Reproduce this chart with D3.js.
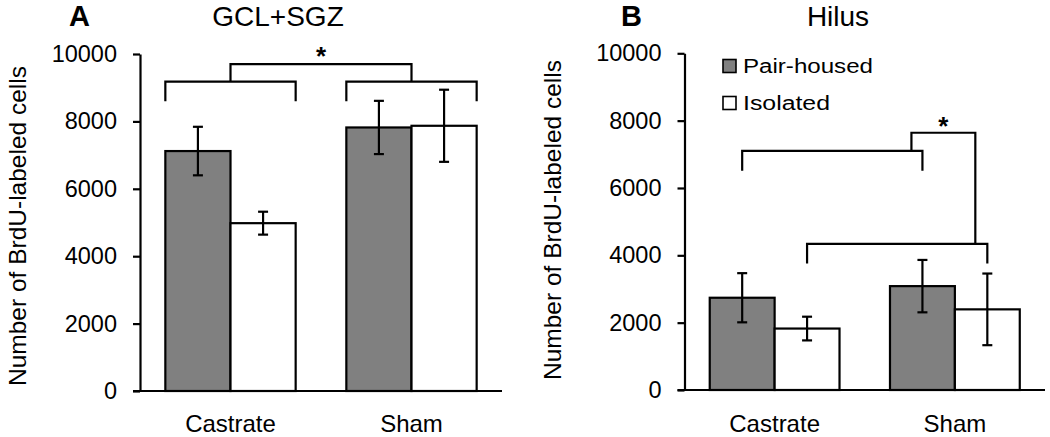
<!DOCTYPE html>
<html>
<head>
<meta charset="utf-8">
<script src="https://cdn.jsdelivr.net/npm/d3@7"></script>
<style>
  html, body { margin: 0; padding: 0; background: #fff; }
  svg { display: block; font-family: "Liberation Sans", Arial, sans-serif; }
</style>
</head>
<body>
<svg id="chart" width="1050" height="437"></svg>
<script>
// ---------- data ----------
const categories = ["Castrate", "Sham"];
const series = ["Pair-housed", "Isolated"];
const yTicks = [0, 2000, 4000, 6000, 8000, 10000];

// Panel A: GCL+SGZ
const gclPair = [7120, 7820];
const gclPairErr = [720, 790];
const gclIso = [4980, 7870];
const gclIsoErr = [340, 1070];

// Panel B: Hilus
const hilPair = [2740, 3085];
const hilPairErr = [730, 778];
const hilIso = [1825, 2395];
const hilIsoErr = [352, 1064];

// significance brackets (y in data units)
const bracketsA = [
  { a: ["Castrate", "start"], b: ["Castrate", "end"], y: 9180, drop: 8600 },
  { a: ["Sham", "start"], b: ["Sham", "end"], y: 9180, drop: 8600 },
  { a: ["Castrate", "center"], b: ["Sham", "center"], y: 9700, drop: 9180, star: true }
];
const bracketsB = [
  { a: ["Castrate", "Pair-housed"], b: ["Sham", "Pair-housed"], y: 7100, drop: 6510 },
  { a: ["Castrate", "Isolated"], b: ["Sham", "Isolated"], y: 4340, drop: 3760 }
];
const connectorB = { fromY: 7100, topY: 7640, toY: 4340 };

// ---------- drawing ----------
const svg = d3.select("#chart");
const fills = { "Pair-housed": "#808080", "Isolated": "#ffffff" };
const SW = 2.2;

function drawPanel(cfg) {
  const g = svg.append("g");
  const x = d3.scaleBand().domain(categories).range([cfg.x0, cfg.x1]);
  const y = d3.scaleLinear().domain([0, 10000]).range([cfg.yBottom, cfg.yTop]);
  const bw = x.bandwidth();
  const groupW = bw * 0.72;
  const xs = d3.scaleBand().domain(series).range([(bw - groupW) / 2, (bw + groupW) / 2]);

  const rows = [];
  categories.forEach((c, i) => {
    rows.push({ cat: c, ser: "Pair-housed", v: cfg.pair[i], e: cfg.pairErr[i] });
    rows.push({ cat: c, ser: "Isolated", v: cfg.iso[i], e: cfg.isoErr[i] });
  });

  // bars
  g.selectAll("rect.bar").data(rows).enter().append("rect")
    .attr("x", d => x(d.cat) + xs(d.ser))
    .attr("y", d => y(d.v))
    .attr("width", xs.bandwidth())
    .attr("height", d => y(0) - y(d.v))
    .attr("fill", d => fills[d.ser])
    .attr("stroke", "#000").attr("stroke-width", SW);

  // error bars
  const cx = d => x(d.cat) + xs(d.ser) + xs.bandwidth() / 2;
  const eb = g.selectAll("g.err").data(rows).enter().append("g")
    .attr("stroke", "#000").attr("stroke-width", SW);
  eb.append("line").attr("x1", cx).attr("x2", cx)
    .attr("y1", d => y(d.v + d.e)).attr("y2", d => y(d.v - d.e));
  eb.append("line").attr("x1", d => cx(d) - 5).attr("x2", d => cx(d) + 5)
    .attr("y1", d => y(d.v + d.e)).attr("y2", d => y(d.v + d.e));
  eb.append("line").attr("x1", d => cx(d) - 5).attr("x2", d => cx(d) + 5)
    .attr("y1", d => y(d.v - d.e)).attr("y2", d => y(d.v - d.e));

  // y axis
  const ya = g.append("g").attr("transform", `translate(${cfg.x0},0)`)
    .call(d3.axisLeft(y).tickValues(yTicks).tickFormat(d3.format("d"))
      .tickSize(7).tickSizeOuter(0).tickPadding(16));
  ya.selectAll("path, line").attr("stroke", "#000").attr("stroke-width", SW);
  ya.selectAll("text").attr("font-size", 23.5).attr("fill", "#000")
    .attr("font-family", "Liberation Sans, Arial, sans-serif");

  // x axis
  const xa = g.append("g").attr("transform", `translate(0,${cfg.yBottom})`)
    .call(d3.axisBottom(x).tickSize(0).tickSizeOuter(0).tickPadding(415 - cfg.yBottom));
  xa.select("path.domain").remove();
  xa.selectAll("text").attr("font-size", 24).attr("fill", "#000")
    .attr("font-family", "Liberation Sans, Arial, sans-serif");
  g.append("line").attr("x1", cfg.x0 - 7).attr("x2", cfg.x1)
    .attr("y1", y(0)).attr("y2", y(0))
    .attr("stroke", "#000").attr("stroke-width", SW);

  // y axis title
  g.append("text")
    .attr("transform", `translate(${cfg.titleX},${cfg.titleY}) rotate(-90)`)
    .attr("text-anchor", "middle").attr("font-size", 24.5)
    .text("Number of BrdU-labeled cells");

  // panel letter & title
  g.append("text").attr("x", cfg.letterX).attr("y", 26)
    .attr("font-size", 29).attr("font-weight", "bold").text(cfg.letter);
  g.append("text").attr("x", cfg.headX).attr("y", 26)
    .attr("font-size", 28).attr("text-anchor", "middle").text(cfg.head);

  // bracket helpers
  function px(ref) {
    const [c, k] = ref;
    if (k === "start") return x(c) + xs.range()[0];
    if (k === "end") return x(c) + xs.range()[1];
    if (k === "center") return x(c) + bw / 2;
    return x(c) + xs(k) + xs.bandwidth() / 2;
  }
  const bg = g.append("g").attr("fill", "none").attr("stroke", "#000").attr("stroke-width", SW);
  cfg.brackets.forEach(b => {
    const xa1 = px(b.a), xb1 = px(b.b);
    bg.append("path").attr("d",
      `M${xa1},${y(b.drop)}V${y(b.y)}H${xb1}V${y(b.drop)}`);
    if (b.star) {
      g.append("text").attr("x", (xa1 + xb1) / 2).attr("y", y(b.y) + 1)
        .attr("text-anchor", "middle").attr("font-size", 26).attr("font-weight", "bold").text("*");
    }
  });
  return { x, y, xs, bw, px, bg, g };
}

const A = drawPanel({
  x0: 140, x1: 502, yBottom: 391, yTop: 54,
  pair: gclPair, pairErr: gclPairErr, iso: gclIso, isoErr: gclIsoErr,
  titleX: 26, titleY: 226, letter: "A", letterX: 69, head: "GCL+SGZ", headX: 278,
  brackets: bracketsA
});

const B = drawPanel({
  x0: 684.5, x1: 1045, yBottom: 390, yTop: 53.3,
  pair: hilPair, pairErr: hilPairErr, iso: hilIso, isoErr: hilIsoErr,
  titleX: 561, titleY: 220, letter: "B", letterX: 621, head: "Hilus", headX: 838,
  brackets: bracketsB
});

// connector bracket in panel B
{
  const xFrom = B.px(["Sham", "Pair-housed"]) - 11;
  const xTo = B.px(["Sham", "Isolated"]) - 12;
  B.bg.append("path").attr("d",
    `M${xFrom},${B.y(connectorB.fromY)}V${B.y(connectorB.topY)}H${xTo}V${B.y(connectorB.toY)}`);
  B.g.append("text").attr("x", (xFrom + xTo) / 2).attr("y", B.y(connectorB.topY) + 2)
    .attr("text-anchor", "middle").attr("font-size", 26).attr("font-weight", "bold").text("*");
}

// legend (panel B)
const legend = svg.append("g");
const legendY = [66, 103];
series.forEach((s, i) => {
  legend.append("rect").attr("x", 723).attr("y", legendY[i] - 6.5)
    .attr("width", 13).attr("height", 13)
    .attr("fill", fills[s]).attr("stroke", "#000").attr("stroke-width", 1.6);
  legend.append("text").attr("x", 743).attr("y", legendY[i] + 7)
    .attr("font-size", 19.5)
    .attr("textLength", s === "Pair-housed" ? 130 : 87)
    .attr("lengthAdjust", "spacingAndGlyphs")
    .text(s);
});
</script>
</body>
</html>
